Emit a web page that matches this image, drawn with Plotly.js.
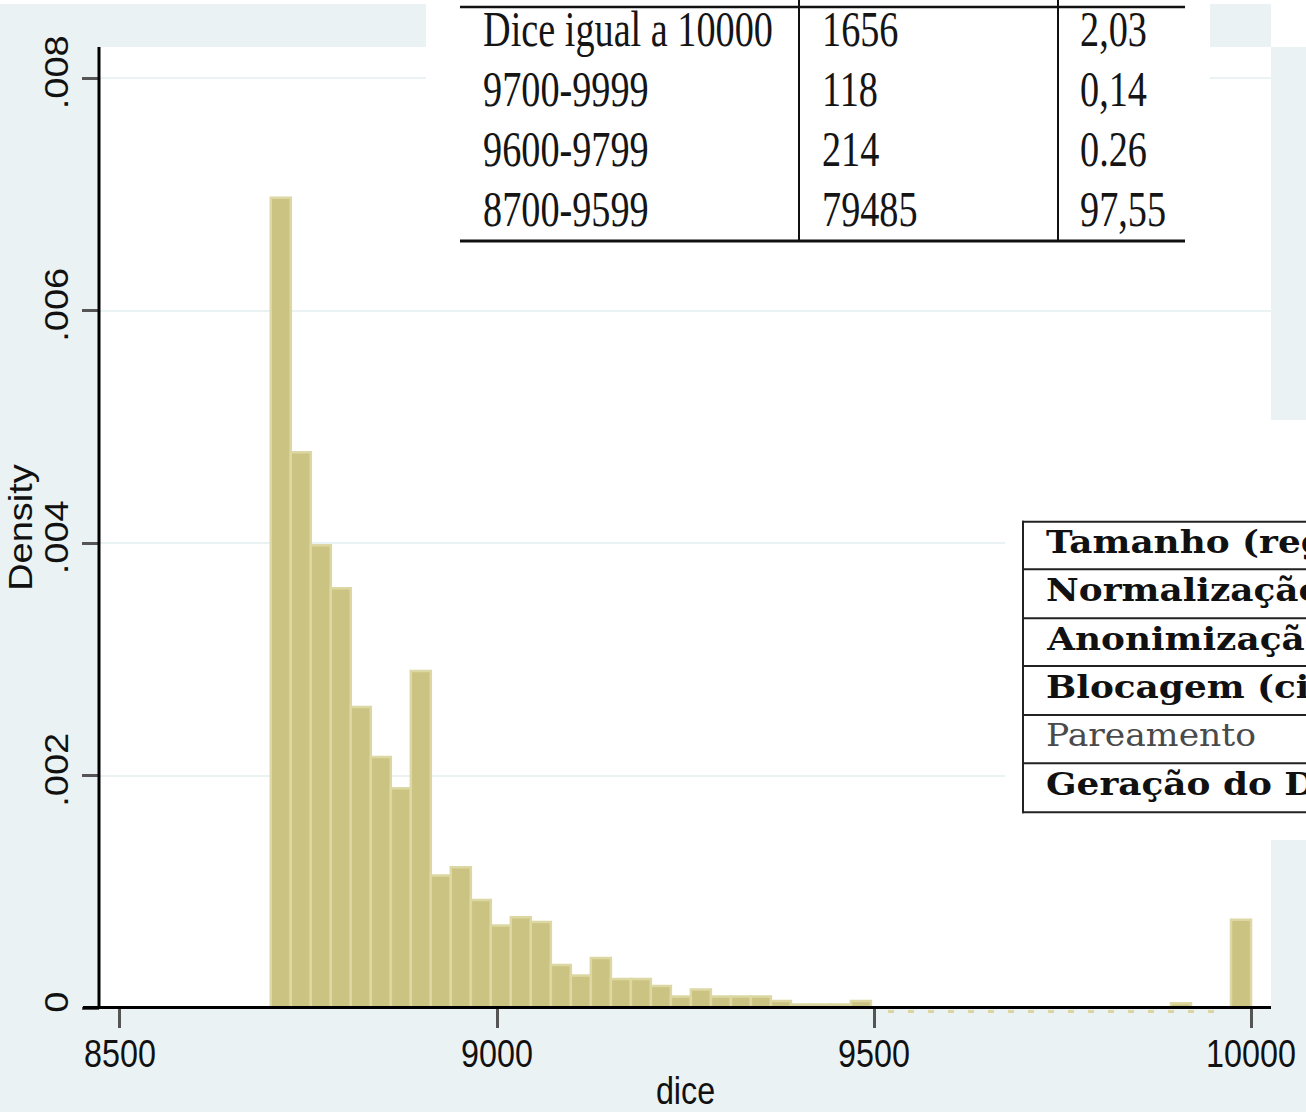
<!DOCTYPE html>
<html>
<head>
<meta charset="utf-8">
<script src="https://cdn.plot.ly/plotly-3.0.1.min.js"></script>
<style>
  html, body { margin: 0; padding: 0; background: #eaf2f3; overflow: hidden; }
  #chart { width: 1306px; height: 1112px; }
</style>
</head>
<body>
<div id="chart"></div>
<script>
// ---------------- data ----------------
// histogram of "dice": 49 bins from 8700 to 10000
const binStart = 8700;
const binEnd = 10000;
const binCount = 49;
const density = [
  0.00697, 0.00478, 0.00398, 0.00361, 0.00259, 0.00216, 0.00189, 0.00290,
  0.00114, 0.00121, 0.00093, 0.00071, 0.00078, 0.00074, 0.00037, 0.00028,
  0.00043, 0.00025, 0.00025, 0.00019, 0.00010, 0.00016, 0.00010, 0.00010,
  0.00010, 0.00006, 0.00003, 0.00003, 0.00003, 0.00006, 0, 0,
  0, 0, 0, 0, 0, 0, 0, 0,
  0, 0, 0, 0, 0, 0.00004, 0, 0,
  0.00076
];
const xTickVals = [8500, 9000, 9500, 10000];
const xTickText = ['8500', '9000', '9500', '10000'];
const yTickVals = [0, 0.002, 0.004, 0.006, 0.008];
const yTickText = ['0', '.002', '.004', '.006', '.008'];

// overlaid table 1
const t1Labels = ['Dice igual a 10000', '9700-9999', '9600-9799', '8700-9599'];
const t1Counts = ['1656', '118', '214', '79485'];
const t1Pcts = ['2,03', '0,14', '0.26', '97,55'];
// overlaid table 2 (cut at the right border, as in the reference)
const t2Labels = ['Tamanho (reg', 'Normalização', 'Anonimização', 'Blocagem (ci', 'Pareamento', 'Geração do D'];
const t2Bold = [true, true, true, true, false, true];

// ---------------- geometry helpers ----------------
const W = 1306, H = 1112, ML = 100, MR = 35, MT = 47, MB = 104;
const PW = W - ML - MR, PH = H - MT - MB;
const px = x => (x - ML) / PW;          // page px -> paper x
const py = y => (MT + PH - y) / PH;     // page px -> paper y

const binW = (binEnd - binStart) / binCount;
const centers = density.map((_, i) => binStart + binW * (i + 0.5));

// ---------------- traces ----------------
const bars = {
  type: 'bar',
  x: centers,
  y: density,
  width: binW,
  marker: { color: '#cbc381', line: { color: '#ddd7a4', width: 2.5 } },
  hoverinfo: 'x+y'
};

// ---------------- shapes ----------------
const shapes = [];
function rect(x0, y0, x1, y1, color) {
  shapes.push({ type: 'rect', xref: 'paper', yref: 'paper', x0: px(x0), x1: px(x1), y0: py(y0), y1: py(y1),
    fillcolor: color, line: { width: 0 }, layer: 'above' });
}
function line(x0, y0, x1, y1, w, color, dash) {
  shapes.push({ type: 'line', xref: 'paper', yref: 'paper', x0: px(x0), x1: px(x1), y0: py(y0), y1: py(y1),
    line: { color: color, width: w, dash: dash || 'solid' }, layer: 'above' });
}
// white pasted-image areas
rect(0, 0, W, 4, '#ffffff');
rect(426, 0, 1210, 258, '#ffffff');
rect(1271, 0, W, 47, '#ffffff');
rect(1005, 420, W, 840, '#ffffff');
// faint bar-top residue below the axis (artefact of the pasted image)
line(888, 1011.5, 1216, 1011.5, 3, '#dcd5a2', '6px,14px');
// axis lines
line(83, 1007.5, 1271, 1007.5, 3, '#000000');
line(99, 47, 99, 1009, 3, '#000000');
// table 1 rules
line(460, 7, 1185, 7, 2.5, '#111111');
line(460, 241, 1185, 241, 3, '#111111');
line(799, 0, 799, 241, 2, '#111111');
line(1058, 0, 1058, 241, 2, '#111111');
// table 2 rules
const t2Rules = [521.7, 569.3, 618.3, 666, 715, 763.3, 812.3];
t2Rules.forEach(y => line(1022, y, W + 5, y, 2, '#222222'));
line(1023, 520.7, 1023, 813.3, 2, '#222222');

// ---------------- annotations ----------------
const annotations = [];
const t1RowY = [29, 89, 149, 209];
const t1ColX = [481, 820, 1078];
t1Labels.forEach((lab, i) => {
  [lab, t1Counts[i], t1Pcts[i]].forEach((txt, j) => {
    annotations.push({ xref: 'paper', yref: 'paper', x: px(t1ColX[j]), y: py(t1RowY[i]),
      xanchor: 'left', yanchor: 'middle', showarrow: false, text: txt,
      font: { family: 'Liberation Serif, Times New Roman, serif', size: 51, color: '#151515' } });
  });
});
const t1N = annotations.length;
const t2RowY = [540, 588, 637, 685, 733, 782];
t2Labels.forEach((lab, i) => {
  annotations.push({ xref: 'paper', yref: 'paper', x: px(1044), y: py(t2RowY[i] + 2),
    xanchor: 'left', yanchor: 'middle', showarrow: false,
    text: t2Bold[i] ? '<b>' + lab + '</b>' : lab,
    font: { family: 'DejaVu Serif, serif', size: 32, color: t2Bold[i] ? '#111111' : '#4a4a4a' } });
});

// ---------------- layout ----------------
const axisFont = { family: 'Liberation Sans, Arial, sans-serif', size: 38, color: '#111111' };
const layout = {
  width: W, height: H,
  margin: { l: ML, r: MR, t: MT, b: MB, pad: 0 },
  paper_bgcolor: '#eaf2f3',
  plot_bgcolor: '#ffffff',
  showlegend: false,
  bargap: 0,
  xaxis: {
    range: [8500 - 20 / 0.7542, 10000 + 20 / 0.7542],
    tickmode: 'array', tickvals: xTickVals, ticktext: xTickText,
    ticks: 'outside', ticklen: 19, tickwidth: 3, tickcolor: '#555555',
    showgrid: false, zeroline: false, showline: false,
    tickfont: axisFont, automargin: false,
    title: { text: 'dice', font: axisFont, standoff: 6 }
  },
  yaxis: {
    range: [0, PH / 116250],
    tickmode: 'array', tickvals: yTickVals, ticktext: yTickText,
    tickangle: -90,
    ticks: 'outside', ticklen: 17, tickwidth: 3, tickcolor: '#555555',
    showgrid: true, gridcolor: '#eaf2f3', gridwidth: 2,
    zeroline: false, showline: false,
    tickfont: axisFont, automargin: false,
    title: { text: 'Density', font: axisFont, standoff: 8 }
  },
  shapes: shapes,
  annotations: annotations
};

// horizontal squeeze/stretch of text, like the reference picture
function squeeze(el, s, mode, dy) {
  try {
    const r = el.getBoundingClientRect();
    const m = el.parentNode.getScreenCTM();
    const ax = mode === 'left' ? r.left : (mode === 'right' ? r.right : r.left + r.width / 2);
    const cx = (ax - m.e) / m.a;
    const t = el.getAttribute('transform') || '';
    el.setAttribute('transform', 'translate(' + cx + ',' + (dy || 0) + ') scale(' + s + ',1) translate(' + (-cx) + ',0) ' + t);
  } catch (e) {}
}

Plotly.newPlot('chart', [bars], layout, { displayModeBar: false, staticPlot: true }).then(gd => {
  gd.querySelectorAll('.xtick text').forEach(el => squeeze(el, 0.85, 'center', -7));
  gd.querySelectorAll('.ytick text').forEach(el => squeeze(el, 0.85, 'right', 0));
  gd.querySelectorAll('.xtitle').forEach(el => squeeze(el, 0.85, 'center', 0));
  gd.querySelectorAll('.ytitle').forEach(el => squeeze(el, 0.85, 'center', 0));
  const anns = gd.querySelectorAll('.annotation');
  anns.forEach((a, i) => {
    const t = a.querySelector('text');
    if (!t) return;
    if (i < t1N) {
      squeeze(t, 0.75, 'left', 0);
    } else {
      const k = i - t1N;
      squeeze(t, t2Bold[k] ? 1.12 : 1.08, 'left', 0);
    }
  });
});
</script>
</body>
</html>
